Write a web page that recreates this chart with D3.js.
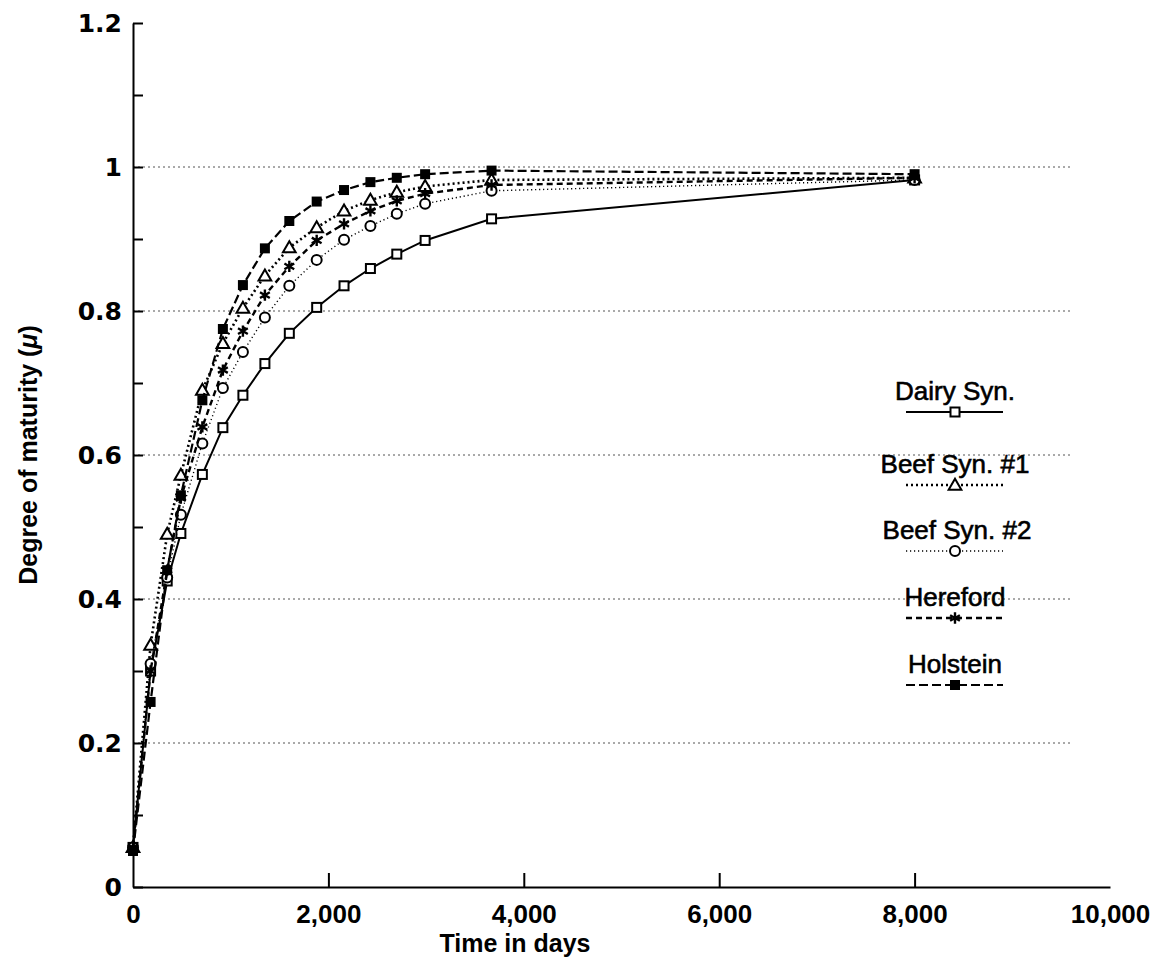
<!DOCTYPE html>
<html>
<head>
  <meta charset="utf-8">
  <title>Degree of maturity</title>
  <script src="https://d3js.org/d3.v7.min.js"></script>
  <style>
    body { margin: 0; background: #fff; }
    text { font-family: 'Liberation Sans', Arial, sans-serif; fill: #000; }
    .yaxis text { font-family: 'DejaVu Sans', sans-serif; font-weight: bold; font-size: 25px; }
    .xaxis text { font-weight: bold; font-size: 26px; }
    .axis path, .axis line { stroke: #000; stroke-width: 2px; }
    .legend-label { font-size: 26px; stroke: #000; stroke-width: 0.6px; }
  </style>
</head>
<body>
  <div id="chart"></div>
  <script>
    // time points (days) shared by all series
    const days = [0, 180, 350, 490, 710, 920, 1125, 1350, 1600, 1880, 2160, 2430, 2700, 2990, 3670, 8000];

    const dairySyn = [0.055, 0.30, 0.425, 0.491, 0.573, 0.638, 0.683, 0.727, 0.769, 0.805, 0.835, 0.859, 0.879, 0.898, 0.928, 0.982];
    const beefSyn1 = [0.055, 0.336, 0.49, 0.572, 0.69, 0.755, 0.804, 0.849, 0.888, 0.916, 0.939, 0.954, 0.965, 0.973, 0.982, 0.985];
    const beefSyn2 = [0.055, 0.31, 0.43, 0.517, 0.616, 0.693, 0.743, 0.791, 0.835, 0.871, 0.899, 0.918, 0.935, 0.949, 0.967, 0.982];
    const hereford = [0.055, 0.30, 0.44, 0.54, 0.639, 0.718, 0.772, 0.822, 0.862, 0.898, 0.921, 0.939, 0.953, 0.963, 0.975, 0.985];
    const holstein = [0.05, 0.257, 0.44, 0.544, 0.676, 0.775, 0.836, 0.887, 0.925, 0.952, 0.968, 0.979, 0.985, 0.99, 0.995, 0.99];

    const seriesNames = ["Dairy Syn.", "Beef Syn. #1", "Beef Syn. #2", "Hereford", "Holstein"];
    const xTicks = [0, 2000, 4000, 6000, 8000, 10000];
    const yTicks = [0, 0.1, 0.2, 0.3, 0.4, 0.5, 0.6, 0.7, 0.8, 0.9, 1, 1.1, 1.2];
    const gridValues = [0.2, 0.4, 0.6, 0.8, 1];

    const W = 1161, H = 968;

    const svg = d3.select("#chart")
      .append("svg")
      .attr("width", W)
      .attr("height", H);

    const x = d3.scaleLinear().domain([0, 10000]).range([133, 1110]);
    const y = d3.scaleLinear().domain([0, 1.2]).range([887, 23]);

    // dotted gridlines
    svg.append("g")
      .selectAll("line")
      .data(gridValues)
      .join("line")
      .attr("x1", x(0))
      .attr("x2", x(9600))
      .attr("y1", d => y(d))
      .attr("y2", d => y(d))
      .attr("stroke", "#555")
      .attr("stroke-width", 1)
      .attr("stroke-dasharray", "2,3");

    // y axis
    svg.append("g")
      .attr("class", "axis yaxis")
      .attr("transform", "translate(" + x(0) + ",0)")
      .call(d3.axisLeft(y)
        .tickValues(yTicks)
        .tickSizeInner(-10)
        .tickSizeOuter(0)
        .tickPadding(11)
        .tickFormat(d => (Math.round(d * 10) % 2 === 0) ? d3.format("")(+d.toFixed(1)) : ""));

    // x axis
    const xg = svg.append("g")
      .attr("class", "axis xaxis")
      .attr("transform", "translate(0," + y(0) + ")")
      .call(d3.axisBottom(x)
        .tickValues(xTicks)
        .tickSizeInner(-14)
        .tickSizeOuter(0)
        .tickPadding(10)
        .tickFormat(d3.format(",")));
    xg.selectAll(".tick line").filter(d => d === 0 || d === 10000).remove();
    xg.selectAll(".tick text").attr("dy", "1em");

    // axis titles
    svg.append("text")
      .attr("x", 515)
      .attr("y", 952)
      .attr("text-anchor", "middle")
      .style("font-weight", "bold")
      .style("font-size", "25px")
      .text("Time in days");

    const yTitle = svg.append("text")
      .attr("transform", "translate(37,455) rotate(-90)")
      .attr("text-anchor", "middle")
      .style("font-weight", "bold")
      .style("font-size", "25px");
    yTitle.append("tspan").text("Degree of maturity (");
    yTitle.append("tspan").style("font-style", "italic").text("μ");
    yTitle.append("tspan").text(")");

    // series styles
    const styles = [
      { values: dairySyn, dash: null, width: 2, marker: "square" },
      { values: beefSyn1, dash: "2,3", width: 2.6, marker: "triangle" },
      { values: beefSyn2, dash: "1.2,2.8", width: 1.4, marker: "circle" },
      { values: hereford, dash: "6,4", width: 2.4, marker: "star" },
      { values: holstein, dash: "9,4", width: 2.2, marker: "filled" }
    ];

    const line = d3.line()
      .x(d => x(d[0]))
      .y(d => y(d[1]));

    function drawMarker(g, type, cx, cy) {
      if (type === "square") {
        g.append("rect").attr("x", cx - 4.5).attr("y", cy - 4.5).attr("width", 9).attr("height", 9)
          .attr("fill", "#fff").attr("stroke", "#000").attr("stroke-width", 2);
      } else if (type === "filled") {
        g.append("rect").attr("x", cx - 5).attr("y", cy - 5).attr("width", 10).attr("height", 10)
          .attr("fill", "#000");
      } else if (type === "triangle") {
        g.append("path")
          .attr("d", d3.symbol().type(d3.symbolTriangle).size(70)())
          .attr("transform", "translate(" + cx + "," + (cy + 1) + ")")
          .attr("fill", "#fff").attr("stroke", "#000").attr("stroke-width", 2);
      } else if (type === "circle") {
        g.append("circle").attr("cx", cx).attr("cy", cy).attr("r", 5)
          .attr("fill", "#fff").attr("stroke", "#000").attr("stroke-width", 2);
      } else if (type === "star") {
        g.append("path")
          .attr("d", d3.symbol().type(d3.symbolAsterisk).size(90)())
          .attr("transform", "translate(" + cx + "," + cy + ")")
          .attr("fill", "none").attr("stroke", "#000").attr("stroke-width", 2.4);
      }
    }

    styles.forEach(s => {
      const pts = days.map((d, i) => [d, s.values[i]]);
      svg.append("path")
        .datum(pts)
        .attr("d", line)
        .attr("fill", "none")
        .attr("stroke", "#000")
        .attr("stroke-width", s.width)
        .attr("stroke-dasharray", s.dash);
      const g = svg.append("g");
      pts.forEach(p => drawMarker(g, s.marker, x(p[0]), y(p[1])));
    });

    // legend
    const legendY = [400, 473, 539, 606, 673];
    const legendX = [955, 955, 957, 955, 955];
    seriesNames.forEach((name, i) => {
      const s = styles[i];
      svg.append("text")
        .attr("class", "legend-label")
        .attr("x", legendX[i])
        .attr("y", legendY[i])
        .attr("text-anchor", "middle")
        .text(name);
      svg.append("line")
        .attr("x1", 906).attr("x2", 1003)
        .attr("y1", legendY[i] + 12).attr("y2", legendY[i] + 12)
        .attr("stroke", "#000")
        .attr("stroke-width", s.width)
        .attr("stroke-dasharray", s.dash);
      drawMarker(svg.append("g"), s.marker, 955, legendY[i] + 12);
    });
  </script>
</body>
</html>
